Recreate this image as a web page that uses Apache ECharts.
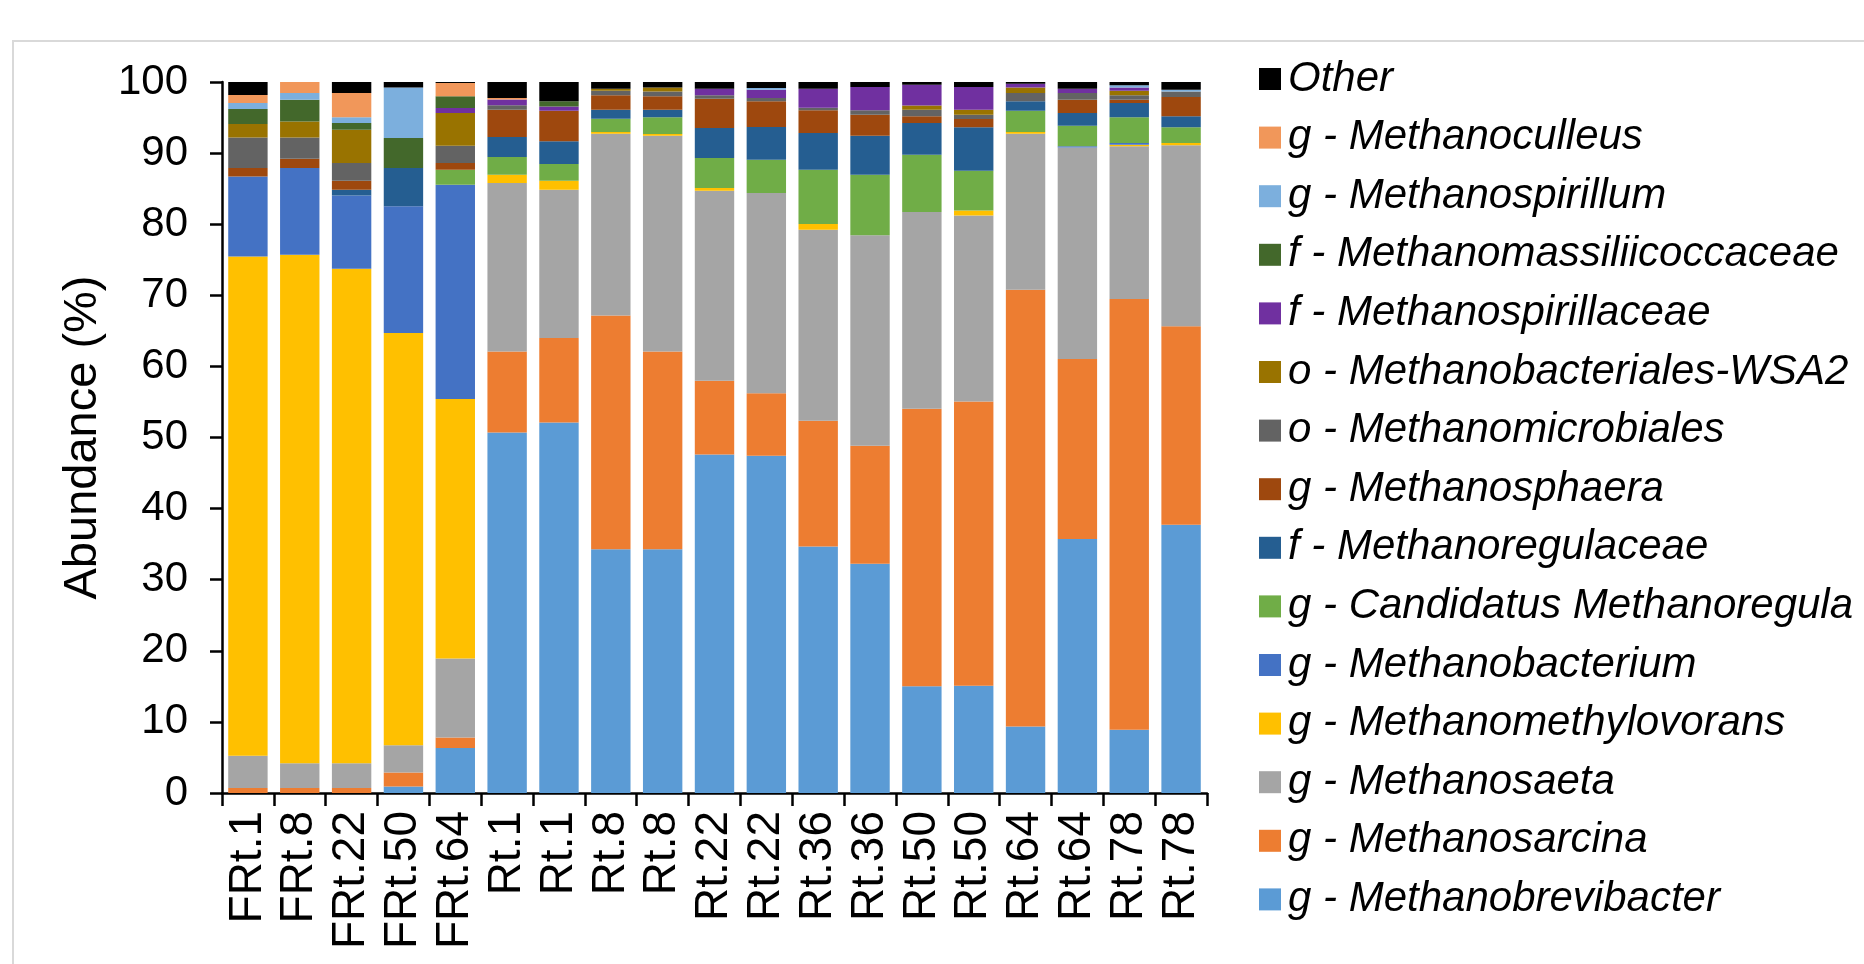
<!DOCTYPE html>
<html>
<head>
<meta charset="utf-8">
<script src="https://cdn.jsdelivr.net/npm/echarts@6/dist/echarts.min.js"></script>
<style>
html,body{margin:0;padding:0;background:#fff;}
#chart{width:1864px;height:964px;}
</style>
</head>
<body>
<div id="chart"></div>
<script>
const categories = ['FRt.1','FRt.8','FRt.22','FRt.50','FRt.64','Rt.1','Rt.1','Rt.8','Rt.8','Rt.22','Rt.22','Rt.36','Rt.36','Rt.50','Rt.50','Rt.64','Rt.64','Rt.78','Rt.78'];
const yTicks = [0, 10, 20, 30, 40, 50, 60, 70, 80, 90, 100];

const brevibacter   = [0, 0, 0, 0.93, 6.33, 50.7, 52.1, 34.3, 34.3, 47.62, 47.44, 34.68, 32.25, 15.0, 15.09, 9.37, 35.72, 8.9, 37.74];
const sarcina       = [0.7, 0.7, 0.7, 1.97, 1.49, 11.4, 11.9, 32.87, 27.8, 10.36, 8.8, 17.68, 16.6, 39.05, 39.99, 61.42, 25.32, 60.57, 27.89];
const saeta         = [4.55, 3.5, 3.5, 3.8, 11.08, 23.69, 20.85, 25.56, 30.35, 26.73, 28.14, 26.87, 29.58, 27.66, 26.16, 21.94, 29.76, 21.48, 25.46];
const methylovorans = [70.2, 71.5, 69.54, 58.0, 36.5, 1.17, 1.27, 0.23, 0.23, 0.38, 0, 0.79, 0, 0, 0.7, 0.23, 0, 0.23, 0.33];
const bacterium     = [11.26, 12.2, 10.31, 17.81, 30.16, 0, 0, 0, 0, 0, 0, 0, 0, 0, 0, 0, 0.15, 0.24, 0];
const candidatus    = [0, 0, 0, 0, 2.11, 2.49, 2.34, 1.88, 2.35, 4.22, 4.69, 7.65, 8.53, 8.06, 5.58, 3.0, 2.9, 3.61, 2.2];
const regulaceae    = [0, 0, 0.8, 5.39, 0, 2.81, 3.19, 1.26, 1.07, 4.22, 4.6, 5.15, 5.49, 4.46, 6.1, 1.32, 1.79, 2.01, 1.55];
const sphaera       = [1.2, 1.3, 1.27, 0, 0.93, 3.84, 4.31, 2.02, 1.88, 4.12, 3.61, 3.2, 2.95, 0.94, 1.17, 0, 1.87, 0.48, 2.72];
const microbiales   = [4.3, 3.0, 2.48, 0, 2.44, 0.64, 0, 0.64, 0.7, 0.47, 0.46, 0.35, 0.61, 0.93, 0.61, 1.17, 0.94, 0.6, 0.79];
const wsa2          = [1.9, 2.25, 4.69, 0, 4.6, 0, 0, 0.3, 0.56, 0, 0, 0, 0, 0.61, 0.7, 0.79, 0, 0.66, 0];
const spirillaceae  = [0, 0, 0, 0, 0.7, 0.8, 0.61, 0, 0, 0.94, 1.18, 2.67, 3.28, 2.91, 3.19, 0.52, 0.61, 0.46, 0];
const massilii      = [2.1, 3.05, 0.94, 4.22, 1.64, 0, 0.71, 0, 0, 0, 0, 0, 0, 0, 0, 0, 0, 0, 0];
const spirillum     = [0.85, 0.94, 0.8, 7.12, 0, 0, 0, 0, 0, 0, 0.23, 0, 0, 0, 0, 0, 0, 0.29, 0.24];
const culleus       = [1.1, 1.55, 3.42, 0, 1.88, 0.2, 0, 0, 0, 0, 0, 0, 0, 0, 0, 0, 0, 0, 0];
const other         = [1.9, 0, 1.55, 0.76, 0.14, 2.26, 2.72, 0.94, 0.76, 0.94, 0.85, 0.99, 0.71, 0.38, 0.71, 0.24, 0.94, 0.47, 1.08];

// bottom to top stacking order
const seriesNames = [
  'g - Methanobrevibacter', 'g - Methanosarcina', 'g - Methanosaeta', 'g - Methanomethylovorans',
  'g - Methanobacterium', 'g - Candidatus Methanoregula', 'f - Methanoregulaceae', 'g - Methanosphaera',
  'o - Methanomicrobiales', 'o - Methanobacteriales-WSA2', 'f - Methanospirillaceae',
  'f - Methanomassiliicoccaceae', 'g - Methanospirillum', 'g - Methanoculleus', 'Other'
];
const seriesData = [brevibacter, sarcina, saeta, methylovorans, bacterium, candidatus, regulaceae, sphaera,
  microbiales, wsa2, spirillaceae, massilii, spirillum, culleus, other];
const seriesColors = ['#5B9BD5', '#ED7D31', '#A5A5A5', '#FFC000', '#4472C4', '#70AD47', '#255E91', '#9E480E',
  '#636363', '#997300', '#7030A0', '#43682B', '#7CAFDD', '#F1975A', '#000000'];

const FONT = '"Liberation Sans", Arial, sans-serif';

const chart = echarts.init(document.getElementById('chart'), null, {renderer: 'canvas'});

const series = seriesNames.map((name, i) => ({
  name: name,
  type: 'bar',
  stack: 'total',
  barWidth: '76%',
  data: seriesData[i],
  itemStyle: {color: seriesColors[i]},
  emphasis: {disabled: true}
}));

chart.setOption({
  animation: false,
  backgroundColor: '#ffffff',
  graphic: [
    {type: 'line', shape: {x1: 12, y1: 41, x2: 1864, y2: 41}, style: {stroke: '#d9d9d9', lineWidth: 2}},
    {type: 'line', shape: {x1: 13, y1: 41, x2: 13, y2: 964}, style: {stroke: '#d9d9d9', lineWidth: 2}}
  ],
  grid: {left: 222, right: 657, top: 82, bottom: 171, containLabel: false},
  legend: {
    orient: 'vertical',
    left: 1254,
    top: 52,
    data: seriesNames.slice().reverse(),
    icon: 'rect',
    itemWidth: 22,
    itemHeight: 22,
    itemGap: 14.6,
    selectedMode: false,
    textStyle: {fontFamily: FONT, fontSize: 42, fontStyle: 'italic', color: '#000', lineHeight: 44, padding: [0, 0, 0, 2]}
  },
  xAxis: {
    type: 'category',
    data: categories,
    axisLine: {lineStyle: {color: '#000', width: 2.5}},
    axisTick: {show: true, length: 13, lineStyle: {color: '#000', width: 2.5}},
    axisLabel: {rotate: 90, interval: 0, margin: 18, fontFamily: FONT, fontSize: 46, color: '#000'},
    splitLine: {show: false}
  },
  yAxis: {
    type: 'value',
    min: yTicks[0],
    max: yTicks[yTicks.length - 1],
    interval: 10,
    name: 'Abundance (%)',
    nameLocation: 'middle',
    nameGap: 106,
    nameTextStyle: {fontFamily: FONT, fontSize: 47, color: '#000'},
    axisLine: {show: true, lineStyle: {color: '#000', width: 2.5}},
    axisTick: {show: true, length: 12, lineStyle: {color: '#000', width: 2.5}},
    axisLabel: {margin: 34, fontFamily: FONT, fontSize: 42, color: '#000'},
    splitLine: {show: false}
  },
  series: series
});
</script>
</body>
</html>
